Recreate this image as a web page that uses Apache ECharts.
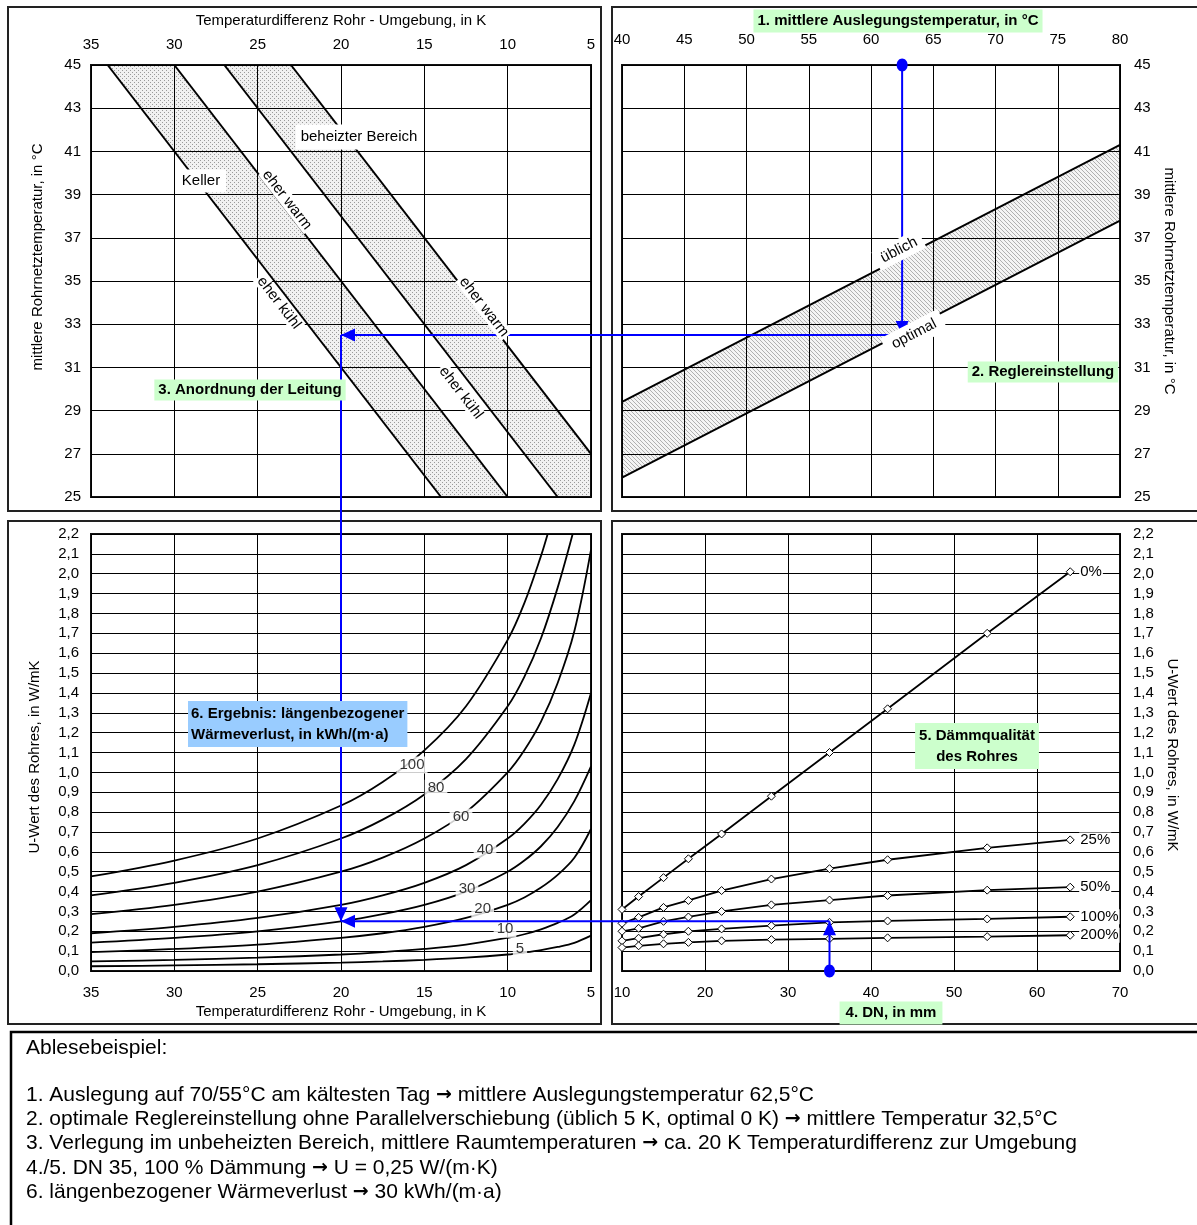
<!DOCTYPE html>
<html><head><meta charset="utf-8">
<script src="https://cdn.jsdelivr.net/npm/echarts@6/dist/echarts.min.js"></script>
<style>html,body{margin:0;padding:0;background:#fff}#c{width:1197px;height:1225px}</style>
</head><body><div id="c"></div>
<script>
// ---------- DATA ----------
// Top-left: pipe-network temperature (°C) vs. temperature difference (K) – band edges
const kellerCool = [[34,45],[14,25]];   // Keller, eher kühl
const kellerWarm = [[30,45],[10,25]];   // Keller, eher warm
const heatedCool = [[27,45],[7,25]];    // beheizter Bereich, eher kühl
const heatedWarm = [[23,45],[5,27]];    // beheizter Bereich, eher warm
// Top-right: controller setting, design temperature (°C) -> mean network temperature (°C)
const regOptimal = [[40,25.9],[80,37.8]];
const regUsual   = [[40,29.4],[80,41.3]];
// Bottom-left: U-value vs temperature difference for constant heat loss (kWh/(m·a))
const lossNames = ['100','80','60','40','30','20','10','5'];
const loss100 = [[35,0.476],[30,0.556],[25,0.667],[20,0.833],[17.5,0.952],[15,1.111],[12.5,1.333],[10,1.667],[9,1.852],[8,2.09],[7.6,2.2]];
const loss80  = [[35,0.381],[30,0.444],[25,0.533],[20,0.667],[17.5,0.762],[15,0.889],[12.5,1.067],[10,1.333],[9,1.481],[8,1.675],[7,1.93],[6.1,2.2]];
const loss60  = [[35,0.286],[30,0.333],[25,0.4],[20,0.5],[17.5,0.571],[15,0.667],[12.5,0.8],[10,1.0],[9,1.111],[8,1.255],[7,1.45],[6,1.71],[5,2.12]];
const loss40  = [[35,0.19],[30,0.222],[25,0.267],[20,0.333],[17.5,0.381],[15,0.444],[12.5,0.533],[10,0.667],[9,0.741],[8,0.837],[7,0.966],[6,1.14],[5,1.40]];
const loss30  = [[35,0.143],[30,0.167],[25,0.2],[20,0.25],[17.5,0.286],[15,0.333],[12.5,0.4],[10,0.5],[9,0.556],[8,0.628],[7,0.725],[6,0.855],[5,1.03]];
const loss20  = [[35,0.095],[30,0.111],[25,0.133],[20,0.167],[17.5,0.19],[15,0.222],[12.5,0.267],[10,0.333],[9,0.37],[8,0.42],[7,0.484],[6,0.57],[5,0.715]];
const loss10  = [[35,0.048],[30,0.056],[25,0.067],[20,0.083],[17.5,0.095],[15,0.111],[12.5,0.133],[10,0.167],[9,0.185],[8,0.21],[7,0.242],[6,0.285],[5,0.357]];
const loss5   = [[35,0.024],[30,0.028],[25,0.034],[20,0.042],[17.5,0.048],[15,0.056],[12.5,0.067],[10,0.083],[9,0.093],[8,0.105],[7,0.121],[6,0.142],[5,0.178]];
// Bottom-right: U-value vs DN for insulation quality
const dn      = [10,12,15,18,22,28,35,42,54,64];
const insNames = ['0%','25%','50%','100%','200%'];
const u0   = [0.31,0.375,0.47,0.565,0.69,0.88,1.10,1.32,1.70,2.01];
const u25  = [0.24,0.27,0.32,0.355,0.405,0.463,0.515,0.56,0.62,0.66];
const u50  = [0.20,0.215,0.25,0.272,0.30,0.333,0.357,0.38,0.407,0.422];
const u100 = [0.152,0.165,0.185,0.20,0.212,0.228,0.245,0.252,0.262,0.273];
const u200 = [0.118,0.127,0.137,0.144,0.152,0.158,0.162,0.167,0.173,0.18];
// Reading example
const exDesignTemp = 62.5, exNetTemp = 32.5, exDeltaT = 20, exDN = 35, exU = 0.25;

// ---------- CHART ----------
const FF = '"Liberation Sans", Arial, Helvetica, sans-serif';
const chart = echarts.init(document.getElementById('c'), null, {renderer:'canvas', width:1197, height:1225});

function mkPattern(kind){
  const c = document.createElement('canvas'); c.width = 4; c.height = 4;
  const g = c.getContext('2d');
  g.fillStyle = kind === 'dot' ? '#f1f1f1' : '#f4f4f4'; g.fillRect(0,0,4,4);
  g.fillStyle = kind === 'dot' ? '#9a9a9a' : '#b0b0b0';
  if (kind === 'dot') { g.fillRect(0,0,1,1); g.fillRect(2,2,1,1); }
  else { for (let i=0;i<4;i++) g.fillRect(i,i,1,1); }
  return {image: c, repeat: 'repeat'};
}
const dotFill = mkPattern('dot'), hatchFill = mkPattern('hatch');

const comma = v => v.toFixed(1).replace('.', ',');
function axis(o){
  return Object.assign({type:'value', axisLine:{show:false}, axisTick:{show:false},
    splitLine:{show:true, lineStyle:{color:'#000', width:1}}}, o);
}
const lbl = (margin, fmt) => ({color:'#000', fontSize:15, fontFamily:FF, margin, formatter: fmt});

const gridBase = {show:true, borderColor:'#111', borderWidth:2, backgroundColor:'transparent', containLabel:false, outerBoundsMode:'none'};

function band(xi, yi, poly, fill){
  return {type:'custom', xAxisIndex:xi, yAxisIndex:yi, data:[0], silent:true, z:-1, clip:true,
    renderItem: (params, api) => ({type:'polygon', shape:{points: poly.map(p => api.coord(p))}, style:{fill: fill}})};
}
function blackLine(xi, yi, data, w){
  return {type:'line', xAxisIndex:xi, yAxisIndex:yi, data, symbol:'none', silent:true,
    lineStyle:{color:'#000', width:w||2}};
}

const xMinTL = 5, yMinTL = 25;
const series = [
  band(0,0,[...kellerCool, ...kellerWarm.slice().reverse()], dotFill),
  band(0,0,[...heatedCool, [xMinTL,yMinTL], ...heatedWarm.slice().reverse()], dotFill),
  blackLine(0,0,kellerCool), blackLine(0,0,kellerWarm), blackLine(0,0,heatedCool), blackLine(0,0,heatedWarm),
  band(1,1,[...regOptimal, ...regUsual.slice().reverse()], hatchFill),
  blackLine(1,1,regOptimal), blackLine(1,1,regUsual)
];
[loss100,loss80,loss60,loss40,loss30,loss20,loss10,loss5].forEach((d,i) => {
  series.push({type:'line', name:lossNames[i], xAxisIndex:2, yAxisIndex:2, data:d, symbol:'none', smooth:0.35,
    silent:true, lineStyle:{color:'#000', width:1.8}});
});
// curve value labels (placed on the curves)
const lossLabelAt = [[15.74,1.037],[14.3,0.92],[12.8,0.775],[11.36,0.61],[12.44,0.413],[11.5,0.312],[10.16,0.21],[9.26,0.11]];
series.push({type:'scatter', xAxisIndex:2, yAxisIndex:2, symbolSize:1, silent:true, z:6,
  itemStyle:{color:'rgba(0,0,0,0)'},
  label:{show:true, position:'inside', formatter: p => p.name, color:'#000', fontSize:15, fontFamily:FF,
    backgroundColor:'#fff', padding:[1,3]},
  data: lossLabelAt.map((v,i) => ({name: lossNames[i], value: v}))});
[u0,u25,u50,u100,u200].forEach((u,i) => {
  series.push({type:'line', name:insNames[i], xAxisIndex:3, yAxisIndex:3, data: dn.map((d,j)=>[d,u[j]]),
    symbol:'diamond', symbolSize:8, showSymbol:true, silent:true, z:4,
    itemStyle:{color:'#fff', borderColor:'#000', borderWidth:1},
    lineStyle:{color:'#000', width:1.8},
    endLabel:{show:true, formatter:'{a}', color:'#000', fontSize:15, fontFamily:FF, distance:9,
      backgroundColor:'#fff', padding:[0,1]}});
});

chart.setOption({
  animation:false,
  textStyle:{fontFamily:FF},
  grid:[
    Object.assign({left:91, top:65, width:500, height:432}, gridBase),
    Object.assign({left:622, top:65, width:498, height:432}, gridBase),
    Object.assign({left:91, top:534, width:500, height:437}, gridBase),
    Object.assign({left:622, top:534, width:498, height:437}, gridBase)
  ],
  xAxis:[
    axis({gridIndex:0, position:'top', min:5, max:35, interval:5, inverse:true, axisLabel:lbl(13)}),
    axis({gridIndex:1, position:'top', min:40, max:80, interval:5, axisLabel:lbl(18)}),
    axis({gridIndex:2, position:'bottom', min:5, max:35, interval:5, inverse:true, axisLabel:lbl(14)}),
    axis({gridIndex:3, position:'bottom', min:10, max:70, interval:10, axisLabel:lbl(14)})
  ],
  yAxis:[
    axis({gridIndex:0, position:'left', min:25, max:45, interval:2, axisLabel:lbl(10)}),
    axis({gridIndex:1, position:'right', min:25, max:45, interval:2, axisLabel:lbl(14)}),
    axis({gridIndex:2, position:'left', min:0, max:2.2, interval:0.1, axisLabel:lbl(12, comma)}),
    axis({gridIndex:3, position:'right', min:0, max:2.2, interval:0.1, axisLabel:lbl(13, comma)})
  ],
  series
});

// ---------- ANNOTATIONS ----------
const BLUE = '#0000ff';
const G = [];
function rect(x,y,w,h,lw,col){ G.push({type:'rect', z:1, silent:true, shape:{x,y,width:w,height:h}, style:{fill:'none', stroke:col||'#222', lineWidth:lw||2}}); }
function txt(x,y,text,o){
  o = o||{};
  const st = {text, x:0, y:0, fill:'#000', font:(o.bold?'bold ':'')+(o.size||15)+'px '+FF,
    align:o.align||'center', textAlign:o.align||'center', verticalAlign:o.va||'middle', textVerticalAlign:o.va||'middle'};
  if (o.bg) { st.backgroundColor = o.bg; st.padding = o.pad || [2,4]; }
  if (o.lh) st.lineHeight = o.lh;
  if (o.rich) st.rich = o.rich;
  G.push({type:'text', z:o.z||60, silent:true, x, y, rotation:(o.rot||0)*Math.PI/180, style:st});
}
// panel frames
rect(8,7,593,504); rect(612,7,600,504); rect(8,521,593,503); rect(612,521,600,503);
rect(11,1032,1200,300,2.5,'#000');

const GREEN = '#ccffcc', LBLUE = '#99ccff';
// top-left
txt(341,21,'Temperaturdifferenz Rohr - Umgebung, in K');
txt(38,257,'mittlere Rohrnetztemperatur, in °C',{rot:90});
txt(201,181,'Keller',{bg:'#fff',pad:[4,6]});
txt(359,137,'beheizter Bereich',{bg:'#fff',pad:[5,5]});
const diag = -52.3;
txt(287,200,'eher warm',{rot:diag,bg:'#fff',pad:[0,2]});
txt(279,303,'eher kühl',{rot:diag,bg:'#fff',pad:[0,2]});
txt(484,307,'eher warm',{rot:diag,bg:'#fff',pad:[0,2]});
txt(461,393,'eher kühl',{rot:diag,bg:'#fff',pad:[0,2]});
txt(250,390,'3. Anordnung der Leitung',{bold:true,bg:GREEN,pad:[3,4]});
// top-right
txt(898,21,'1. mittlere Auslegungstemperatur, in °C',{bold:true,bg:GREEN,pad:[4,4]});
txt(1169,281,'mittlere Rohrnetztemperatur, in °C',{rot:-90});
txt(899,250,'üblich',{rot:27.3,bg:'#fff',pad:[3,6]});
txt(914,334,'optimal',{rot:27.3,bg:'#fff',pad:[4,8]});
txt(1043,372,'2. Reglereinstellung',{bold:true,bg:GREEN,pad:[3,4]});
// bottom-left
txt(35,757,'U-Wert des Rohres, in W/mK',{rot:90});
txt(341,1012,'Temperaturdifferenz Rohr - Umgebung, in K');
txt(188,724,'6. Ergebnis: längenbezogener\nWärmeverlust, in kWh/(m·a)',{bold:true,bg:LBLUE,pad:[2,3],align:'left',lh:21,z:70});
// bottom-right
txt(1172,755,'U-Wert des Rohres, in W/mK',{rot:-90});
txt(891,1013,'4. DN, in mm',{bold:true,bg:GREEN,pad:[4,6]});
txt(977,746,'5. Dämmqualität\ndes Rohres',{bold:true,bg:GREEN,pad:[2,4],lh:21});
// reading example text
const ARR = '{a|→}';
const noteLines = [
  ['Ablesebeispiel:',1048],
  ['1. Auslegung auf 70/55°C am kältesten Tag '+ARR+' mittlere Auslegungstemperatur 62,5°C',1095.5],
  ['2. optimale Reglereinstellung ohne Parallelverschiebung (üblich 5 K, optimal 0 K) '+ARR+' mittlere Temperatur 32,5°C',1119.5],
  ['3. Verlegung im unbeheizten Bereich, mittlere Raumtemperaturen '+ARR+' ca. 20 K Temperaturdifferenz zur Umgebung',1143.5],
  ['4./5. DN 35, 100 % Dämmung '+ARR+' U = 0,25 W/(m·K)',1168],
  ['6. längenbezogener Wärmeverlust '+ARR+' 30 kWh/(m·a)',1192]
];
const arrowRich = {a:{font:'bold 19px "DejaVu Sans", sans-serif', fill:'#000'}};
noteLines.forEach(l => txt(26,l[1],l[0],{size:21,align:'left',rich:arrowRich}));

// blue reading path via the chart's own scales
const px = (g,v) => chart.convertToPixel({gridIndex:g}, v);
const a0 = px(1,[exDesignTemp,45]), a1 = px(1,[exDesignTemp,exNetTemp]);
const b1 = px(0,[exDeltaT,exNetTemp]);
const c1 = px(2,[exDeltaT,exU]);
const d0 = px(3,[exDN,0]), d1 = px(3,[exDN,exU]);
function seg(p,q){ G.push({type:'polyline', z:50, silent:true, shape:{points:[p,q]}, style:{stroke:BLUE, lineWidth:2}}); }
function head(tip, from){
  const L=14, W=6.5, dx=tip[0]-from[0], dy=tip[1]-from[1], n=Math.hypot(dx,dy), ux=dx/n, uy=dy/n;
  const bx=tip[0]-ux*L, by=tip[1]-uy*L;
  G.push({type:'polygon', z:51, silent:true, shape:{points:[tip,[bx-uy*W,by+ux*W],[bx+uy*W,by-ux*W]]}, style:{fill:BLUE}});
}
function dot(p){ G.push({type:'ellipse', z:52, silent:true, shape:{cx:p[0], cy:p[1], rx:5.5, ry:6.5}, style:{fill:BLUE}}); }
seg(a0,a1); head(a1,a0); dot(a0);
seg(a1,b1); head(b1,a1);
seg(b1,c1); head(c1,b1);
seg(d0,d1); head(d1,d0); dot(d0);
seg(d1,c1); head(c1,d1);

chart.setOption({graphic: G});
</script>
</body></html>
